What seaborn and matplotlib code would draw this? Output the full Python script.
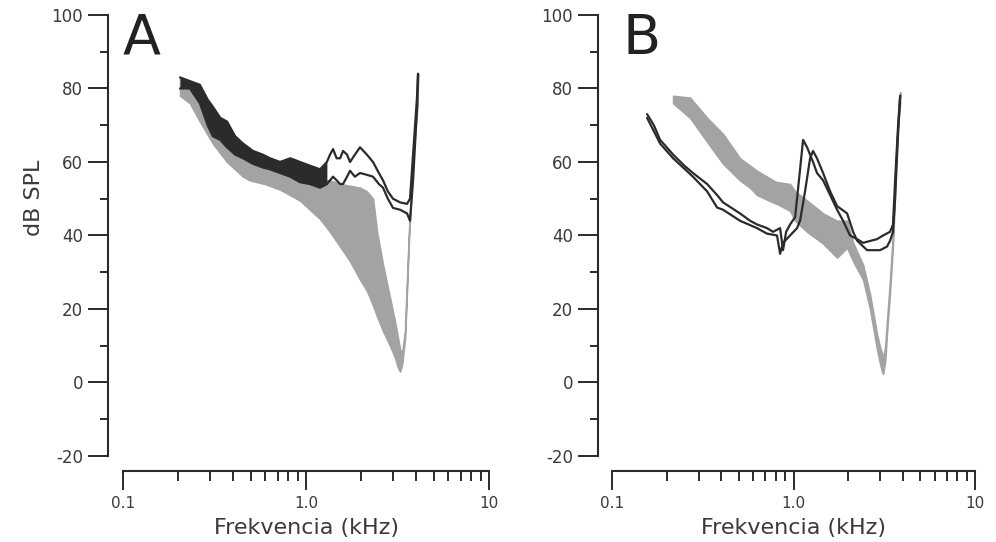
import numpy as np
import pandas as pd
import seaborn as sns
import matplotlib
matplotlib.use("Agg")
import matplotlib.pyplot as plt
from matplotlib.ticker import FixedLocator, NullFormatter

# ---------------- data (frequency in kHz, level in dB SPL) ----------------
# Panel A - gray band (threshold region)
a_gray_f  = [0.205, 0.232, 0.263, 0.310, 0.370, 0.453, 0.494, 0.597, 0.721, 0.927,
             1.193, 1.352, 1.535, 1.740, 1.972, 2.150, 2.323, 2.443, 2.634, 2.877,
             3.050, 3.184, 3.265, 3.350, 3.475, 3.565, 3.650, 3.750, 3.845, 3.950, 4.045, 4.093]
a_gray_hi = [83, 80, 76, 71, 66, 62, 60, 58, 57, 56,
             55, 55, 54, 53.5, 53, 52, 50, 41, 32, 23,
             17, 12, 9, 8, 14, 28, 41, 52, 63, 70, 76, 84]
a_gray_lo = [78, 76, 71, 65, 60, 56, 55, 54, 52.5, 49.5,
             44.5, 41, 37, 33, 28, 25, 21, 18, 14, 10,
             7, 4, 3, 5, 12, 26, 39, 50, 61, 68, 74, 82]

# Panel A - dark traces
a_line_f  = [0.205, 0.232, 0.263, 0.290, 0.310, 0.340, 0.370, 0.410, 0.453, 0.513,
             0.580, 0.636, 0.721, 0.820, 0.927, 1.050, 1.193, 1.300, 1.352, 1.405,
             1.470, 1.535, 1.594, 1.675, 1.740, 1.850, 1.972, 2.150, 2.323, 2.500,
             2.634, 2.800, 2.988, 3.265, 3.565, 3.700, 3.845, 4.045, 4.093]
a_line1   = [83, 82, 81, 77, 75, 72, 71, 67, 65, 63,
             62, 61, 60, 61, 60, 59, 58, 60, 62, 63.5,
             61, 61, 63, 62, 60, 62, 64, 62, 60, 57,
             55, 52, 50, 49, 48.6, 50, 62, 78, 84]
a_line2   = [80, 80, 76, 70, 67, 66, 64, 62, 61, 59.5,
             58.5, 58, 57, 56, 54.5, 54, 53, 54, 55, 56,
             55, 54, 54, 56, 57.6, 56, 57, 56.5, 56, 54,
             53, 50, 47.5, 47, 46, 44, 55, 75, 84]

# Panel B - gray band
b_gray_f  = [0.217, 0.269, 0.334, 0.409, 0.507, 0.576, 0.629, 0.771, 0.811, 0.957,
             1.020, 1.187, 1.454, 1.737, 1.972, 2.128, 2.415, 2.637, 2.884, 3.000,
             3.073, 3.113, 3.200, 3.275, 3.402, 3.532, 3.625, 3.700, 3.767, 3.866]
b_gray_hi = [78, 77.5, 72, 67.6, 61, 59, 57.6, 55, 54.5, 54,
             52, 49.5, 46, 44, 44, 38, 32, 24, 13, 9.5,
             8, 6, 10, 17, 28, 41, 55, 66, 72, 79]
b_gray_lo = [76, 72, 65.5, 59.5, 55, 53, 51, 49, 48.6, 46.7,
             44, 41, 37.8, 34, 36.7, 33, 28, 20, 9, 5,
             3, 2.4, 6, 14, 25, 38, 52, 63, 70, 76]

# Panel B - dark trace 1
b_l1_f = [0.156, 0.170, 0.184, 0.200, 0.217, 0.250, 0.279, 0.334, 0.379, 0.409,
          0.507, 0.576, 0.629, 0.714, 0.771, 0.843, 0.875, 0.910, 0.957, 1.020,
          1.086, 1.128, 1.187, 1.280, 1.346, 1.454, 1.590, 1.737, 1.874, 2.048,
          2.239, 2.415, 2.637, 2.884, 3.113, 3.402, 3.532, 3.625, 3.767, 3.866]
b_l1   = [73, 70, 66, 64, 62, 59, 57, 54, 51, 49,
          46, 44, 43, 42, 41, 42, 36, 41, 43, 45,
          58, 66, 64, 60, 57, 55, 51, 47, 44, 40,
          39, 38, 38.5, 39, 40, 41, 43, 55, 70, 78]
# Panel B - dark trace 2
b_l2_f = [0.156, 0.184, 0.217, 0.279, 0.334, 0.379, 0.409, 0.507, 0.629, 0.714,
          0.811, 0.843, 0.875, 0.957, 1.045, 1.086, 1.157, 1.233, 1.280, 1.346,
          1.454, 1.590, 1.737, 1.972, 2.128, 2.239, 2.541, 2.995, 3.275, 3.402,
          3.532, 3.625, 3.767, 3.866]
b_l2   = [72, 65, 61, 56, 52, 47.6, 47, 44, 42, 40.5,
          40, 35, 38, 40, 42, 44, 52, 61, 63, 61,
          57, 52, 48, 46, 41, 38.6, 36, 36, 37, 38.6,
          41, 50, 68, 78]

x_major = [0.1, 1.0, 10.0]
x_major_labels = ["0.1", "1.0", "10"]
y_major = [-20, 0, 20, 40, 60, 80, 100]
y_major_labels = ["-20", "0", "20", "40", "60", "80", "100"]

# ---------------- styling ----------------
sns.set_theme(style="ticks")
plt.rcParams["font.family"] = ["DejaVu Sans"]

GRAY = "#a3a3a3"
DARK = "#2b2b2b"
TXT = "#3a3a3a"

fig = plt.figure(figsize=(9.96, 5.42), dpi=100)
axA = fig.add_axes([0.1235, 0.1587, 0.3675, 0.8137])
axB = fig.add_axes([0.6145, 0.1587, 0.3645, 0.8137])


def draw_panel(ax, gf, glo, ghi, lines, dark_fill=None):
    ax.fill_between(gf, glo, ghi, color=GRAY, edgecolor=GRAY, linewidth=1.2, zorder=1)
    if dark_fill is not None:
        f, l1, l2, fmax = dark_fill
        f = np.asarray(f)
        ax.fill_between(f, l2, l1, where=f <= fmax, color=DARK, linewidth=0,
                        interpolate=True, zorder=2)
    frames = []
    for i, (f, v) in enumerate(lines):
        frames.append(pd.DataFrame({"f": f, "dB": v, "trace": f"t{i}"}))
    df = pd.concat(frames, ignore_index=True)
    sns.lineplot(data=df, x="f", y="dB", hue="trace", units="trace", estimator=None,
                 sort=False, palette=[DARK] * len(lines), legend=False,
                 linewidth=1.6, ax=ax, zorder=3)


draw_panel(axA, a_gray_f, a_gray_lo, a_gray_hi,
           [(a_line_f, a_line1), (a_line_f, a_line2)],
           dark_fill=(a_line_f, a_line1, a_line2, 1.3))
draw_panel(axB, b_gray_f, b_gray_lo, b_gray_hi,
           [(b_l1_f, b_l1), (b_l2_f, b_l2)])

minor_x = [m * d for d in (0.1, 1.0) for m in range(2, 10)]
for ax, letter, yoff, lx in ((axA, "A", 10.8, 0.0), (axB, "B", 10.1, 0.028)):
    ax.set_xscale("log")
    ax.set_xlim(0.1, 10)
    ax.set_ylim(-20, 100)
    ax.xaxis.set_major_locator(FixedLocator(x_major))
    ax.set_xticklabels(x_major_labels)
    ax.xaxis.set_minor_locator(FixedLocator(minor_x))
    ax.xaxis.set_minor_formatter(NullFormatter())
    ax.set_yticks(y_major)
    ax.set_yticklabels(y_major_labels)
    ax.yaxis.set_minor_locator(FixedLocator(list(range(-10, 100, 20))))
    ax.yaxis.set_minor_formatter(NullFormatter())
    sns.despine(ax=ax, offset={"left": yoff, "bottom": 10.5})
    for s in ("left", "bottom"):
        ax.spines[s].set_linewidth(1.5)
        ax.spines[s].set_color(DARK)
    ax.tick_params(axis="y", which="major", length=14.5, width=1.4, pad=3.5,
                   labelsize=12, colors=DARK, labelcolor=TXT)
    ax.tick_params(axis="y", which="minor", length=6, width=1.4, colors=DARK)
    ax.tick_params(axis="x", which="major", length=14, width=1.4, pad=4,
                   labelsize=11, colors=DARK, labelcolor=TXT)
    ax.tick_params(axis="x", which="minor", length=7, width=1.4, colors=DARK)
    ax.set_xlabel("Frekvencia (kHz)", fontsize=16, color=TXT, labelpad=5)
    ax.set_ylabel("")
    ax.set_facecolor("white")
    ax.text(lx, 0.912, letter, transform=ax.transAxes, fontsize=40,
            color="#222222", ha="left", va="baseline")

axA.set_ylabel("dB SPL", fontsize=16, color=TXT)
axA.yaxis.set_label_coords(-0.215, 0.585)

fig.savefig("out.png", dpi=100, facecolor="white")
